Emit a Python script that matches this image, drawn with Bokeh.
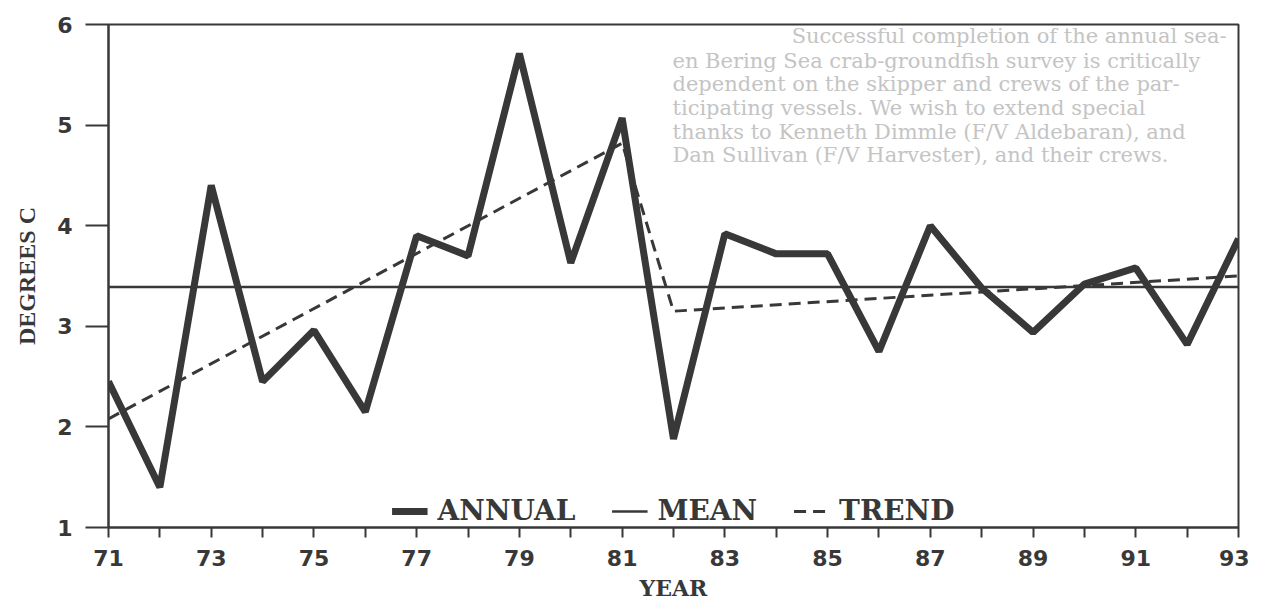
from bokeh.plotting import figure
from bokeh.models import Range1d, FixedTicker, Legend, LegendItem, Label
from bokeh.embed import file_html
from bokeh.resources import INLINE

# ---- data ----
years = list(range(71, 94))
annual = [2.45, 1.40, 4.40, 2.45, 2.96, 2.15, 3.90, 3.70, 5.71, 3.63, 5.07, 1.88,
          3.92, 3.72, 3.72, 2.75, 4.00, 3.38, 2.94, 3.42, 3.58, 2.82, 3.87]
mean_value = 3.39
trend_years = [71, 81, 82, 93]
trend_values = [2.08, 4.82, 3.15, 3.50]
label_years = [71, 73, 75, 77, 79, 81, 83, 85, 87, 89, 91, 93]
minor_years = [72, 74, 76, 78, 80, 82, 84, 86, 88, 90, 92]
y_ticks = [1, 2, 3, 4, 5, 6]

# faint text showing through from the reverse of the scanned page
bleed_lines = [
    "Successful completion of the annual sea-",
    "en Bering Sea crab-groundfish survey is critically",
    "dependent on the skipper and crews of the par-",
    "ticipating vessels.  We wish to extend special",
    "thanks to Kenneth Dimmle (F/V Aldebaran), and",
    "Dan Sullivan (F/V Harvester), and their crews.",
]
bleed_x = [84.30, 81.98, 81.98, 81.98, 81.98, 81.98]
bleed_y = [5.89, 5.64, 5.41, 5.17, 4.93, 4.70]

INK = "#383838"

p = figure(width=1249, height=603,
           x_range=Range1d(years[0], years[-1]), y_range=Range1d(y_ticks[0], y_ticks[-1]),
           output_backend="svg", toolbar_location=None,
           min_border_left=108, min_border_right=11,
           min_border_top=24, min_border_bottom=74)

p.background_fill_color = "white"
p.border_fill_color = "white"
p.outline_line_color = INK
p.outline_line_width = 2
p.xgrid.visible = False
p.ygrid.visible = False

for txt, bx, by in zip(bleed_lines, bleed_x, bleed_y):
    p.add_layout(Label(x=bx, y=by, text=txt, text_font="DejaVu Serif",
                       text_font_size="21px", text_color="#c4c4c4",
                       text_baseline="middle", level="underlay"))

r_mean = p.line([years[0], years[-1]], [mean_value, mean_value],
                line_color=INK, line_width=2.5)
r_trend = p.line(trend_years, trend_values, line_color=INK, line_width=3,
                 line_dash="12 7")
r_annual = p.line(years, annual, line_color=INK, line_width=7, line_join="bevel")

# axes
p.xaxis.ticker = FixedTicker(ticks=label_years, minor_ticks=minor_years)
p.yaxis.ticker = FixedTicker(ticks=y_ticks)
for ax in (p.xaxis, p.yaxis):
    ax.axis_line_color = INK
    ax.axis_line_width = 2
    ax.major_tick_line_color = INK
    ax.major_tick_line_width = 2
    ax.minor_tick_line_color = INK
    ax.minor_tick_line_width = 2
    ax.major_tick_in = 0
    ax.minor_tick_in = 0
    ax.major_label_text_font = "DejaVu Sans"
    ax.major_label_text_font_style = "bold"
    ax.major_label_text_font_size = "22px"
    ax.major_label_text_color = INK
    ax.axis_label_text_color = INK
    ax.axis_label_text_font_style = "bold"

p.xaxis.major_tick_out = 10
p.xaxis.minor_tick_out = 10
p.xaxis.major_label_standoff = 12
p.xaxis.axis_label = "YEAR"
p.xaxis.axis_label_text_font = "DejaVu Serif"
p.xaxis.axis_label_text_font_size = "22px"
p.xaxis.axis_label_standoff = 6

p.yaxis.major_tick_out = 23
p.yaxis.minor_tick_out = 0
p.yaxis.major_label_standoff = 13
p.yaxis.axis_label = "DEGREES C"
p.yaxis.axis_label_text_font = "Liberation Serif"
p.yaxis.axis_label_text_font_size = "24px"
p.yaxis.axis_label_standoff = 14

legend = Legend(items=[LegendItem(label="ANNUAL", renderers=[r_annual]),
                       LegendItem(label="MEAN", renderers=[r_mean]),
                       LegendItem(label="TREND", renderers=[r_trend])],
                orientation="horizontal", location="bottom_center",
                border_line_alpha=0, background_fill_alpha=0,
                label_text_font="DejaVu Serif", label_text_font_style="bold",
                label_text_font_size="28px", label_text_color=INK,
                glyph_width=36, glyph_height=20, label_standoff=10, spacing=36,
                padding=0, margin=0)
p.add_layout(legend)

open("out.html", "w").write(file_html(p, INLINE))
